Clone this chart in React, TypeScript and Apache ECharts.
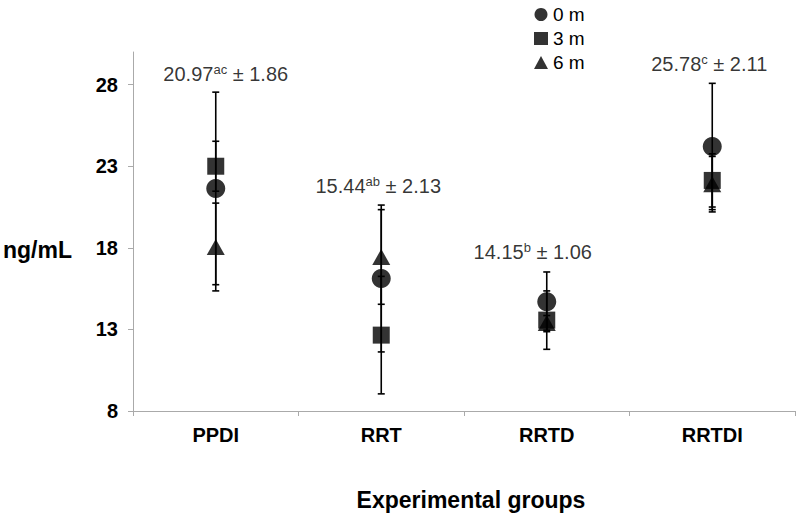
import React, { useEffect, useRef } from "react";
import * as echarts from "echarts";

const categories = ["PPDI", "RRT", "RRTD", "RRTDI"];
const seriesNames = ["0 m", "3 m", "6 m"];
const symbols = ["circle", "rect", "triangle"];
const symbolSizes = [19, 17, [18, 16]];
const means0m = [21.64, 16.12, 14.69, 24.21];
const err0m = [5.9, 4.5, 1.83, 3.87];
const means3m = [23.0, 12.65, 13.57, 22.13];
const err3m = [1.53, 3.6, 1.79, 1.63];
const means6m = [18.05, 17.44, 13.4, 21.9];
const err6m = [2.69, 2.9, 0.45, 1.7];
const annMean = ["20.97", "15.44", "14.15", "25.78"];
const annSup = ["ac", "ab", "b", "c"];
const annSD = ["1.86", "2.13", "1.06", "2.11"];
const yTicks = [8, 13, 18, 23, 28];

const FONT = "'Liberation Sans', Arial, sans-serif";
// layout-only nudges for the annotation labels (pixels)
const annLabelNudge = [[10, 1], [-3, 0], [-14, -1], [-3, 0]];

export default function App() {
  const ref = useRef<HTMLDivElement>(null);
  useEffect(() => {
    if (!ref.current) return;
    const chart = echarts.init(ref.current, null, { renderer: "svg" });
    const means = [means0m, means3m, means6m];
    const errs = [err0m, err3m, err6m];

    const errorSeries = means.map((m, si) => ({
      type: "custom",
      name: "err" + si,
      z: 1,
      silent: true,
      data: m.map((v, i) => [i, v, v - errs[si][i], v + errs[si][i]]),
      renderItem: (params: any, api: any) => {
        const lo = api.coord([api.value(0), api.value(2)]);
        const hi = api.coord([api.value(0), api.value(3)]);
        const hw = 3.5;
        const st = { stroke: "#000", lineWidth: 1.6 };
        return {
          type: "group",
          children: [
            { type: "line", shape: { x1: lo[0], y1: lo[1], x2: hi[0], y2: hi[1] }, style: st },
            { type: "line", shape: { x1: lo[0] - hw, y1: lo[1], x2: lo[0] + hw, y2: lo[1] }, style: st },
            { type: "line", shape: { x1: hi[0] - hw, y1: hi[1], x2: hi[0] + hw, y2: hi[1] }, style: st },
          ],
        };
      },
    }));

    const markerSeries = means.map((m, si) => ({
      type: "scatter",
      name: seriesNames[si],
      symbol: symbols[si],
      symbolSize: symbolSizes[si],
      z: 3,
      itemStyle: { color: "#000" },
      data: m.map((v, i) => [i, v]),
    }));

    const annTops = means0m.map((_, i) =>
      Math.max(...means.map((m, si) => m[i] + errs[si][i]))
    );

    const labelSeries = {
      type: "scatter",
      name: "labels",
      symbolSize: 0,
      silent: true,
      z: 4,
      data: annTops.map((v, i) => ({ value: [i, v], label: { offset: annLabelNudge[i] } })),
      label: {
        show: true,
        position: "top",
        distance: 8,
        formatter: (p: any) =>
          `{v|${annMean[p.dataIndex]}}{s|${annSup[p.dataIndex]}}{v| ± ${annSD[p.dataIndex]}}`,
        rich: {
          v: { fontSize: 20, fontFamily: FONT, color: "#000", lineHeight: 22 },
          s: { fontSize: 13, fontFamily: FONT, color: "#000", lineHeight: 22, verticalAlign: "top" },
        },
      },
    };

    chart.setOption({
      animation: false,
      backgroundColor: "#fff",
      textStyle: { fontFamily: FONT },
      grid: { left: 133, right: 5, top: 52, bottom: 105, containLabel: false, outerBoundsMode: "none" },
      legend: {
        data: seriesNames,
        orient: "vertical",
        left: 529,
        top: 0,
        itemWidth: 14,
        itemHeight: 13,
        itemGap: 5,
        textStyle: { fontSize: 19, color: "#000", fontFamily: FONT },
      },
      xAxis: {
        type: "category",
        data: categories,
        name: "Experimental groups",
        nameLocation: "middle",
        nameGap: 77,
        nameTextStyle: { fontSize: 23, fontWeight: "bold", color: "#000", fontFamily: FONT, padding: [0, 0, 0, 14] },
        axisLine: { lineStyle: { color: "#aaa", width: 1 } },
        axisTick: { show: true, length: 5, lineStyle: { color: "#aaa" } },
        axisLabel: { fontSize: 20, fontWeight: "bold", color: "#000", margin: 14, fontFamily: FONT },
      },
      yAxis: {
        type: "value",
        min: 8,
        max: 30,
        interval: 5,
        name: "ng/mL",
        nameLocation: "middle",
        nameRotate: 0,
        nameGap: 61,
        nameTextStyle: { fontSize: 23, fontWeight: "bold", color: "#000", fontFamily: FONT, verticalAlign: "top", padding: [7, 0, 0, 0] },
        splitLine: { show: false },
        axisLine: { show: true, lineStyle: { color: "#aaa", width: 1 } },
        axisTick: { show: true, length: 5, lineStyle: { color: "#aaa" }, customValues: yTicks },
        axisLabel: { fontSize: 20, fontWeight: "bold", color: "#000", margin: 15, fontFamily: FONT, customValues: yTicks },
      },
      series: [...errorSeries, ...markerSeries, labelSeries],
    });
    return () => chart.dispose();
  }, []);
  return <div ref={ref} style={{ width: 800, height: 516, position: "absolute", left: 0, top: 0 }} />;
}
